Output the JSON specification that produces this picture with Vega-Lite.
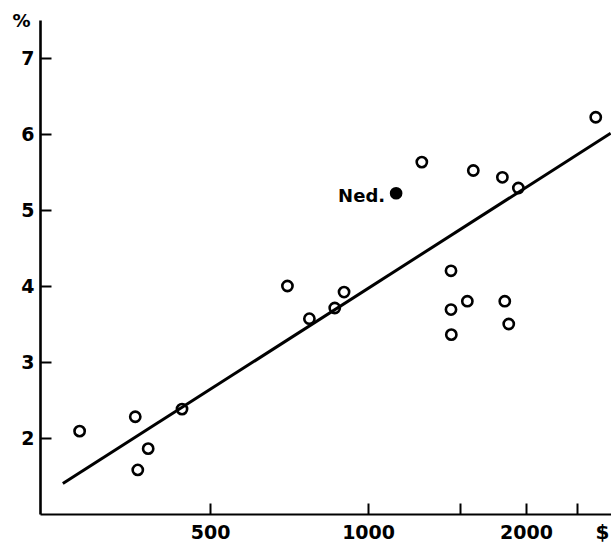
{
  "$schema": "https://vega.github.io/schema/vega-lite/v6.json",
  "width": 571,
  "height": 494,
  "autosize": {"type": "none"},
  "padding": {"left": 40, "top": 20, "right": 0, "bottom": 29},
  "background": "white",
  "config": {
    "view": {"stroke": null},
    "font": "DejaVu Sans",
    "axis": {
      "domainColor": "black",
      "tickColor": "black",
      "labelColor": "black",
      "titleColor": "black",
      "grid": false,
      "labelFont": "DejaVu Sans",
      "titleFont": "DejaVu Sans",
      "labelFontSize": 19,
      "labelFontWeight": "bold",
      "titleFontWeight": "bold"
    }
  },
  "datasets": {
    "countries": [
      {"income": 282, "rate": 2.09},
      {"income": 360, "rate": 2.28},
      {"income": 364, "rate": 1.58},
      {"income": 381, "rate": 1.86},
      {"income": 442, "rate": 2.38},
      {"income": 702, "rate": 4.0},
      {"income": 773, "rate": 3.57},
      {"income": 864, "rate": 3.71},
      {"income": 900, "rate": 3.92},
      {"income": 1266, "rate": 5.63},
      {"income": 1439, "rate": 4.2},
      {"income": 1439, "rate": 3.69},
      {"income": 1441, "rate": 3.36},
      {"income": 1546, "rate": 3.8},
      {"income": 1587, "rate": 5.52},
      {"income": 1803, "rate": 5.43},
      {"income": 1822, "rate": 3.8},
      {"income": 1854, "rate": 3.5},
      {"income": 1934, "rate": 5.29},
      {"income": 2716, "rate": 6.22}
    ],
    "ned": [
      {"income": 1131, "rate": 5.22, "label": "Ned."}
    ],
    "fit": [
      {"income": 262, "rate": 1.4},
      {"income": 2900, "rate": 6.01}
    ]
  },
  "encoding": {
    "x": {
      "field": "income",
      "type": "quantitative",
      "scale": {"type": "log", "domain": [237, 2904], "nice": false},
      "axis": {
        "values": [500, 1000, 1500, 2000, 2500],
        "format": "d",
        "labelExpr": "datum.value == 1500 || datum.value == 2500 ? '' : datum.label",
        "tickSize": -11,
        "tickWidth": 2,
        "domainWidth": 2.2,
        "labelPadding": 20,
        "labelBaseline": "top",
        "title": "$",
        "titleFontSize": 20,
        "titleX": 562,
        "titleY": 8,
        "titleAlign": "center",
        "titleBaseline": "top",
        "labelFlush": false
      }
    },
    "y": {
      "field": "rate",
      "type": "quantitative",
      "scale": {"domain": [1, 7.5], "nice": false, "zero": false},
      "axis": {
        "values": [2, 3, 4, 5, 6, 7],
        "tickSize": -11,
        "tickWidth": 2,
        "domainWidth": 2.6,
        "labelPadding": 17,
        "title": "%",
        "titleAngle": 0,
        "titleFontSize": 18,
        "titleX": -19,
        "titleY": 1,
        "titleAlign": "center",
        "titleBaseline": "middle",
        "labelFlush": false
      }
    }
  },
  "layer": [
    {
      "data": {"name": "fit"},
      "mark": {"type": "line", "color": "black", "strokeWidth": 3, "clip": true},
      "encoding": {}
    },
    {
      "data": {"name": "countries"},
      "mark": {"type": "point", "shape": "circle", "filled": false, "stroke": "black", "strokeWidth": 2.6, "size": 105, "opacity": 1}
    },
    {
      "data": {"name": "ned"},
      "mark": {"type": "point", "shape": "circle", "filled": true, "fill": "black", "stroke": null, "size": 160, "opacity": 1}
    },
    {
      "data": {"name": "ned"},
      "mark": {"type": "text", "align": "right", "baseline": "middle", "dx": -11, "dy": 4, "fontSize": 18, "fontWeight": "bold", "color": "black"},
      "encoding": {"text": {"field": "label"}}
    }
  ]
}
